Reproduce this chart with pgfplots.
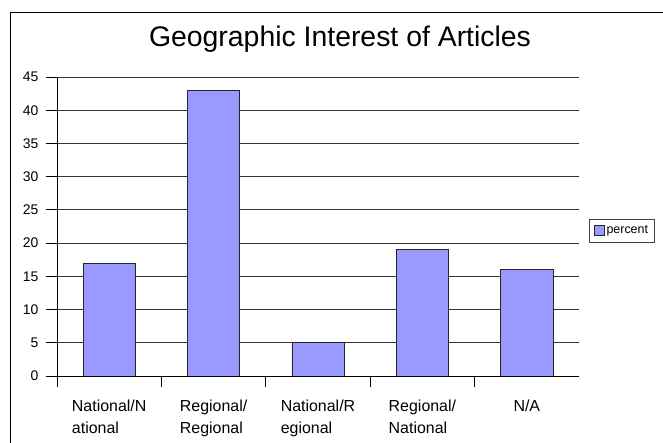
\documentclass[border=0pt]{standalone}
\usepackage{fontspec}
\setmainfont{Liberation Sans}
\usepackage{pgfplots}
\pgfplotsset{compat=1.18}
\definecolor{barblue}{HTML}{9999FF}
\begin{document}
\begin{tikzpicture}[x=1bp,y=1bp]
\useasboundingbox (0,0) rectangle (663,443);
\draw[line width=1bp] (10.5,0) -- (10.5,430) -- (663,430);
\node[anchor=base, font=\fontsize{28.5}{32}\selectfont] at (340,396) {Geographic Interest of Articles};
\begin{axis}[
  at={(57bp,67bp)}, anchor=south west, scale only axis,
  width=522bp, height=299bp,
  xmin=-0.5, xmax=4.5, ymin=0, ymax=45,
  axis x line*=bottom, axis y line*=left,
  axis line style={black, line width=0.8bp},
  ytick={0,5,...,45},
  ymajorgrids, major grid style={black!80, line width=0.8bp},
  tick align=outside, major tick length=11bp,
  tick style={black, line width=0.8bp},
  xtick={-0.5,0.5,1.5,2.5,3.5}, xticklabels={},
  extra x ticks={0,1,2,3,4},
  extra x tick labels={National/N\\ational, Regional/\\Regional, National/R\\egional, Regional/\\National, N/A},
  extra x tick style={major tick length=0pt, grid=none,
    xticklabel style={align=left, font=\fontsize{16}{23}\selectfont, anchor=north, yshift=-20bp}},
  yticklabel style={font=\fontsize{14}{16}\selectfont, xshift=-4bp},
  /pgf/number format/assume math mode=true,
  ybar, bar width=0.5,
  legend style={at={(1,0.5)}, anchor=west, xshift=10bp, yshift=-4bp,
    draw=black!75, font=\fontsize{12.5}{14}\selectfont, inner sep=4.5bp},
  legend image code/.code={\draw[#1] (0bp,-5bp) rectangle (10bp,5bp);},
]
\addplot[fill=barblue, draw=black!85, line width=0.8bp] coordinates {(0,17) (1,43) (2,5) (3,19) (4,16)};
\addlegendentry{percent}
\end{axis}
\end{tikzpicture}
\end{document}
